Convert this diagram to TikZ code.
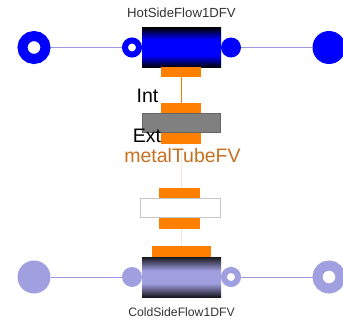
\documentclass[tikz,border=0pt]{standalone}
\usepackage{fontspec}
\setmainfont{Liberation Sans}
\usepackage{xcolor}
\usetikzlibrary{positioning}
\definecolor{hotblue}{HTML}{0000FF}
\definecolor{coldblue}{HTML}{A09FDF}
\definecolor{linkblue}{HTML}{9A9AE0}
\definecolor{portorange}{HTML}{FF8000}
\definecolor{fadeorange}{HTML}{F9E6D5}
\definecolor{tubeorange}{HTML}{C87020}
\pgfdeclareverticalshading{hotshade}{100bp}{
  color(0bp)=(black); color(25bp)=(black); color(40bp)=(hotblue); color(60bp)=(hotblue); color(75bp)=(black); color(100bp)=(black)}
\pgfdeclareverticalshading{coldshade}{100bp}{
  color(0bp)=(black!85!coldblue); color(25bp)=(black!85!coldblue); color(42bp)=(coldblue); color(58bp)=(coldblue); color(75bp)=(black!85!coldblue); color(100bp)=(black!85!coldblue)}

\begin{document}
\begin{tikzpicture}[
  x=1pt, y=-1pt,
  node distance=0pt and 0pt,
  flow/.style={minimum width=79pt, minimum height=40pt, inner sep=0pt, outer sep=0pt},
  bigdisc/.style={circle, fill=#1, minimum size=33pt, inner sep=0pt, outer sep=0pt},
  smalldisc/.style={circle, fill=#1, minimum size=20pt, inner sep=0pt, outer sep=0pt},
  bigring/.style={circle, draw=#1, fill=white, line width=10pt, minimum size=23pt, inner sep=0pt},
  smallring/.style={circle, draw=#1, fill=white, line width=6pt, minimum size=14pt, inner sep=0pt},
  heat/.style={fill=portorange, minimum width=40pt, minimum height=10.5pt, inner sep=0pt, outer sep=0pt},
  wall/.style={minimum width=78pt, minimum height=19pt, inner sep=0pt, outer sep=0pt, line width=1pt},
  link/.style={linkblue, line width=1pt},
  hotlink/.style={portorange, line width=1pt},
  fadelink/.style={fadeorange, line width=1pt},
  big/.style={font=\fontsize{19.5}{20}\selectfont, inner sep=0pt},
  small/.style={font=\fontsize{13.2}{14}\selectfont, text=black!80, inner sep=0pt}
]
\useasboundingbox (0,0) rectangle (343,324);
% hot side
\node[flow, shading=hotshade] (hotflow) at (181.5,47.5) {};
\node[smallring=hotblue, left=of hotflow] (hotinner) {};
\node[smalldisc=hotblue, right=of hotflow] (hotouter) {};
\node[bigring=hotblue, left=71.5pt of hotinner] (hotin) {};
\node[bigdisc=hotblue, right=71.5pt of hotouter] (hotout) {};
% wall stack
\node[heat] (hotheat) at (181,72) {};
\node[heat] (intheat) at (181,108) {};
\node[wall, draw=black!60, fill=black!50] (metal) at (181.5,122.5) {};
\node[heat] (extheat) at (181,138.5) {};
\node[heat, minimum width=41pt] (upheat) at (179.5,193) {};
\node[wall, draw=black!22, fill=white, minimum width=80pt] (blank) at (180,208) {};
\node[heat, minimum width=41pt] (downheat) at (179.5,223.5) {};
\node[heat, minimum width=59pt] (coldheat) at (181.5,251.5) {};
% cold side
\node[flow, shading=coldshade] (coldflow) at (181.5,277) {};
\node[smalldisc=coldblue, left=of coldflow] (coldinner) {};
\node[smallring=coldblue, right=of coldflow] (coldouter) {};
\node[bigdisc=coldblue, left=71.5pt of coldinner] (coldin) {};
\node[bigring=coldblue, right=71.5pt of coldouter] (coldout) {};
\foreach \a/\b in {hotin/hotinner, hotouter/hotout, coldin/coldinner, coldouter/coldout}
  \draw[link] (\a) -- (\b);
\draw[hotlink] (hotheat) -- (intheat);
\draw[fadelink] (extheat.south) -- (extheat.south |- upheat.north);
\draw[fadelink] (extheat.south |- downheat.south) -- (extheat.south |- coldheat.north);
% labels
\node[small] (hotname) at (181.5,13) {HotSideFlow1DFV};
\node[small, font=\fontsize{12.2}{14}\selectfont] (coldname) at (181.5,312) {ColdSideFlow1DFV};
\node[big] (intname) at (147.5,96) {Int};
\node[big] (extname) at (147,136) {Ext};
\node[big, text=tubeorange] (tubename) at (182.5,156) {metalTubeFV};
\end{tikzpicture}
\end{document}
